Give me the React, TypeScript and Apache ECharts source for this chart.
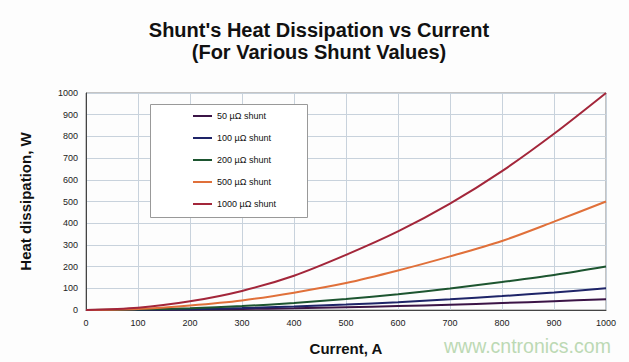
import React, { useEffect, useRef } from "react";
import * as echarts from "echarts";

const currents = [0, 100, 200, 300, 400, 500, 600, 700, 800, 900, 1000];
const shunt50 = [0, 0.5, 2, 4.5, 8, 12.5, 18, 24.5, 32, 40.5, 50];
const shunt100 = [0, 1, 4, 9, 16, 25, 36, 49, 64, 81, 100];
const shunt200 = [0, 2, 8, 18, 32, 51, 73, 99, 129, 161, 200];
const shunt500 = [0, 5, 21, 44, 80, 124, 182, 247, 318, 407, 500];
const shunt1000 = [0, 10, 40, 88, 158, 254, 362, 490, 640, 812, 1000];
const seriesNames = ["50 µΩ shunt", "100 µΩ shunt", "200 µΩ shunt", "500 µΩ shunt", "1000 µΩ shunt"];
const seriesColors = ["#3b1446", "#1e2468", "#1d5530", "#e0703a", "#a3263a"];
const yTicks = [0, 1000, 100];
const xTicks = [0, 1000, 100];

export default function App() {
  const ref = useRef<HTMLDivElement>(null);
  useEffect(() => {
    if (!ref.current) return;
    const chart = echarts.init(ref.current, null, { renderer: "svg" });
    const allData = [shunt50, shunt100, shunt200, shunt500, shunt1000];
    const font = "'Liberation Sans', Arial, sans-serif";
    chart.setOption({
      animation: false,
      backgroundColor: "#fdfdfd",
      textStyle: { fontFamily: font },
      title: {
        text: "Shunt's Heat Dissipation vs Current\n(For Various Shunt Values)",
        left: 314,
        textAlign: "center",
        top: 14,
        textStyle: { fontSize: 20, fontWeight: "bold", color: "#111", lineHeight: 22, fontFamily: font },
      },
      grid: {
        left: 86,
        right: 23,
        top: 93,
        bottom: 52,
        show: true,
        borderColor: "#8a8a8a",
        borderWidth: 1,
        backgroundColor: "transparent",
      },
      legend: {
        orient: "vertical",
        left: 188,
        top: 105,
        itemWidth: 19,
        itemHeight: 2,
        itemGap: 10,
        icon: "rect",
        data: seriesNames,
        textStyle: { fontSize: 9, color: "#111", lineHeight: 12, fontFamily: font },
      },
      xAxis: {
        type: "value",
        min: xTicks[0],
        max: xTicks[1],
        interval: xTicks[2],
        name: "Current, A",
        nameLocation: "middle",
        nameGap: 31,
        nameTextStyle: { fontSize: 15, fontWeight: "bold", color: "#111" },
        axisLine: { lineStyle: { color: "#444", width: 1 } },
        axisTick: { show: false },
        axisLabel: { fontSize: 9, color: "#222", margin: 8, formatter: (v: number) => String(v) },
        splitLine: { lineStyle: { color: "#c8d2dc", width: 1 } },
      },
      yAxis: {
        type: "value",
        min: yTicks[0],
        max: yTicks[1],
        interval: yTicks[2],
        name: "Heat dissipation, W",
        nameLocation: "middle",
        nameGap: 53,
        nameTextStyle: { fontSize: 15, fontWeight: "bold", color: "#111" },
        axisLine: { show: true, lineStyle: { color: "#444", width: 1 } },
        axisTick: { show: false },
        axisLabel: { fontSize: 9, color: "#222", margin: 8, formatter: (v: number) => String(v) },
        splitLine: { lineStyle: { color: "#c8d2dc", width: 1 } },
      },
      graphic: [
        {
          type: "rect",
          left: 150,
          top: 104,
          z: 1,
          shape: { width: 157, height: 113 },
          style: { fill: "#ffffff", stroke: "#999999", lineWidth: 1 },
        },
        {
          type: "text",
          left: 444,
          top: 336,
          z: 10,
          style: { text: "www.cntronics.com", fontSize: 19.5, fill: "#bcd9b4", fontFamily: font },
        },
      ],
      series: allData.map((d, i) => ({
        name: seriesNames[i],
        type: "line",
        smooth: 0.3,
        showSymbol: false,
        color: seriesColors[i],
        lineStyle: { width: 2, color: seriesColors[i] },
        z: 3 + i,
        data: currents.map((c, j) => [c, d[j]]),
      })),
    });
    return () => chart.dispose();
  }, []);
  return (
    <div
      ref={ref}
      style={{ position: "fixed", left: 0, top: 0, width: 629, height: 362 }}
    />
  );
}
